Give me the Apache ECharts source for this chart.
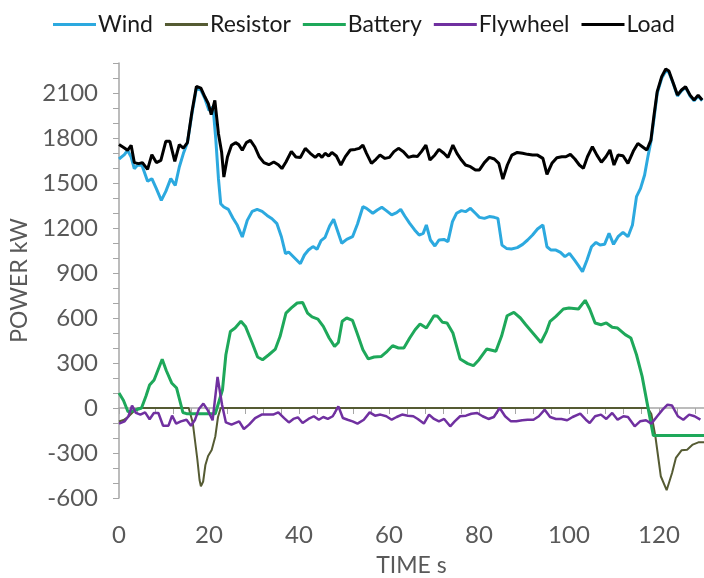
<!DOCTYPE html>
<html>
<head>
<meta charset="utf-8">
<script src="https://cdn.jsdelivr.net/npm/echarts@6/dist/echarts.min.js"></script>
<style>html,body{margin:0;padding:0;background:#fff}#c{width:704px;height:578px}</style>
</head>
<body>
<div id="c"></div>
<script>
const seriesNames = ['Wind', 'Resistor', 'Battery', 'Flywheel', 'Load'];
const xTicks = [0, 20, 40, 60, 80, 100, 120];
const yTicks = [-600, -300, 0, 300, 600, 900, 1200, 1500, 1800, 2100];

const windT = [0,1.2,1.9,2.7,3.4,4.1,5.1,6.35,7.3,8.3,9.4,10.4,11.5,12.5,13.4,14.3,15.2,16.2,17.2,18.2,19.1,20,20.9,21.5,22.1,22.6,23.3,24.3,25.3,26.3,27.4,28.5,29.6,30.7,31.8,32.9,34,35.1,36.1,37,37.7,38.8,40.3,41.2,42.1,43.1,44,44.9,45.8,46.8,47.7,48.5,49.5,50.6,51.9,53,54.2,55,56.4,57.4,58.4,59.4,60.6,61.7,62.6,63.5,64.6,65.7,66.7,67.6,68.3,69.2,70.2,71.1,72.2,73.1,74.1,75,76.1,77,78.1,79.2,80.1,81.2,82.3,83.4,84.2,85.1,86.1,87.2,88.5,89.7,90.8,91.9,93,94.2,95.1,96,97.1,98.1,99.1,100.1,101.2,102.1,103,104,105,106,106.9,107.9,108.9,109.9,110.9,112,113.1,114.1,115,115.9,116.8,117.6,118.2,118.9,119.6,120.6,121.5,122.2,123.2,124.1,125,125.9,126.9,127.8,128.7,129.6];
const windV = [1660,1689,1718,1673,1596,1618,1618,1511,1529,1462,1384,1444,1529,1484,1607,1696,1769,1960,2130,2120,2062,1984,2007,1796,1529,1362,1340,1324,1267,1218,1140,1251,1311,1324,1311,1284,1262,1229,1140,1029,1040,1007,962,1020,1053,1076,1058,1116,1138,1213,1258,1187,1098,1124,1142,1227,1342,1331,1298,1320,1338,1316,1287,1302,1324,1280,1231,1187,1153,1164,1220,1120,1080,1120,1124,1109,1242,1298,1316,1309,1331,1298,1271,1264,1276,1271,1264,1086,1064,1060,1069,1091,1120,1153,1193,1220,1075,1053,1053,1038,1009,1031,987,949,909,987,1075,1104,1086,1091,1164,1091,1142,1171,1142,1220,1409,1464,1553,1686,1775,1931,2098,2198,2246,2237,2160,2080,2115,2138,2080,2048,2080,2048];

const loadT = [0,1.2,1.9,2.7,3.4,4.35,5.2,6.35,7.3,8.3,9.3,10.4,11.3,12.4,13.4,14.3,15.2,16.2,17.2,18.2,19.1,19.85,20.5,21.3,22.1,22.8,23.3,24.1,25,25.9,26.6,27.4,28.3,29.2,30.2,31.2,32.2,33.3,34.4,35.4,36.2,37.1,38.3,39.3,40.3,41.4,42.5,43.6,44.4,45.1,45.8,46.6,47.3,48.3,49.3,50.3,51.4,52.5,53.4,54.2,55,56.1,57.1,58,59.1,60.1,61.1,62.1,63.2,64.3,65.4,66.3,67.2,68.2,69.1,70.2,71.1,72.2,73.1,74.2,75.1,76.1,77,78.1,79.2,80.1,81.2,82.3,83.4,84.4,85.3,86.3,87.3,88.5,89.7,90.8,91.9,93,94.2,95.1,96.2,97.3,98.4,99.3,100.3,101.3,102.3,103.2,104.1,105.2,106.2,107.2,108.2,109.1,110,110.9,112,113.1,114.3,115.3,116.3,117.3,118.2,118.9,119.6,120.6,121.5,122.2,123.2,124.1,125,125.9,126.9,127.8,128.7,129.6];
const loadV = [1756,1733,1718,1751,1636,1629,1636,1591,1689,1636,1651,1778,1778,1644,1756,1733,1769,1973,2144,2133,2073,2029,1956,2051,1829,1707,1540,1673,1751,1769,1756,1718,1769,1784,1740,1673,1636,1622,1640,1622,1596,1640,1711,1673,1670,1731,1698,1671,1693,1671,1698,1680,1704,1680,1620,1676,1720,1724,1731,1753,1698,1631,1658,1687,1664,1671,1709,1731,1709,1671,1680,1676,1709,1753,1653,1687,1724,1698,1671,1753,1698,1653,1620,1609,1587,1587,1636,1671,1660,1631,1526,1620,1686,1704,1698,1691,1686,1686,1664,1558,1631,1669,1675,1675,1691,1660,1620,1598,1675,1742,1686,1638,1675,1720,1620,1686,1682,1631,1713,1764,1742,1720,1786,1953,2109,2209,2260,2246,2164,2086,2120,2142,2086,2053,2086,2053];

const batteryT = [0,1,2,3,4,5,6,6.8,7.8,9.6,10.5,11.7,12.8,14.2,15,21.4,23,23.75,24.75,25.8,27.1,28.1,29.6,30.8,31.9,33.3,34.75,35.8,37.1,38.3,39.6,40.8,41.9,42.9,44.2,45.4,46.7,47.9,48.75,49.6,50.6,51.9,52.9,54.2,55.4,56.7,58.3,59.6,60.8,62.1,63.3,64.6,65.8,66.9,68.3,70,70.8,71.9,72.9,74.2,75.8,77.5,78.75,80,81.7,83.75,85,86.25,87.75,89.2,90.4,92.1,93.75,95,95.8,97.1,98.75,100,102.1,103.6,104.6,105.8,107.1,108.3,109.6,110.8,112.5,113.75,115,116.25,117.5,118.75,130];
const batteryV = [100,50,-25,-20,-10,0,80,153,187,325,250,167,133,-30,-38,-38,122,355,510,533,578,544,433,340,322,355,393,478,633,667,700,704,633,607,593,544,467,411,437,578,600,584,500,389,327,340,344,378,415,400,400,467,522,560,533,615,611,571,567,500,327,296,282,322,393,378,478,615,638,600,555,495,437,511,578,611,660,667,660,718,660,567,555,567,538,533,489,467,355,211,11,-184,-184];

const resistorT = [0,1,2,3,4,5,15.5,16.4,16.9,17.4,17.9,18.2,18.7,19.2,19.8,20.6,21.4,22,22.6,117.5,118.3,119.2,120.4,121.7,122.9,123.75,125,126.25,127.5,128.75,130];
const resistorV = [-90,-80,-60,-30,-5,0,0,-100,-220,-340,-480,-522,-490,-380,-320,-280,-190,-60,0,0,-40,-190,-455,-548,-433,-333,-282,-278,-244,-229,-229];

const flywheelT = [0,1.25,2.1,2.9,3.75,4.75,5.8,6.8,7.75,8.75,9.8,11,11.8,12.7,13.75,15,16,16.9,17.75,18.75,19.75,20.8,21.9,22.9,23.75,25,26.7,27.75,28.9,30.25,31.7,33,34.25,35.4,36.7,37.75,38.75,39.75,40.8,42.1,43.3,44.4,45.4,46.4,47.5,48.75,49.75,50.8,51.9,53,54.4,55.7,56.9,58.1,59.4,60.6,61.7,62.9,64.2,65.4,66.4,67.75,68.9,70,71.1,72.25,73.6,74.6,75.8,77.1,78.3,79.6,80.8,82.1,83.3,84.6,85.8,87.1,88.3,89.6,90.8,92.1,93.3,94.6,95.8,97.1,98.3,99.6,100.8,102.5,103.75,104.6,105.8,107.1,108.3,109.6,110.8,112.1,113.1,114.6,115.8,117.1,118.3,119.6,120.8,121.9,122.9,124.2,125.4,126.7,127.9,129.2];
const flywheelV = [-104,-89,-55,16,-33,-44,-29,-75,-33,-33,-118,-118,-51,-104,-89,-78,-118,-78,-7,29,-16,-82,207,22,-96,-111,-89,-140,-111,-67,-44,-44,-44,-29,-67,-96,-73,-62,-100,-73,-55,-78,-60,-73,-55,11,-67,-78,-89,-104,-78,-29,-51,-44,-55,-78,-60,-44,-51,-55,-73,-104,-44,-73,-89,-73,-122,-89,-55,-51,-38,-33,-55,-73,-60,0,-55,-89,-89,-82,-78,-78,-55,-11,-60,-73,-73,-82,-60,-38,-78,-100,-55,-44,-73,-33,-78,-55,-60,-122,-89,-82,-104,-55,-11,22,16,-55,-78,-44,-55,-78];

const zip = (t, v) => t.map((x, i) => [x, v[i]]);
const colors = ['#2ca9df', '#555b33', '#1ea85a', '#7030a0', '#000000'];
const widths = [3, 2, 3, 2.5, 3];
const dataSets = [zip(windT, windV), zip(resistorT, resistorV), zip(batteryT, batteryV), zip(flywheelT, flywheelV), zip(loadT, loadV)];

const font = 'Lato, "Open Sans", sans-serif';
const chart = echarts.init(document.getElementById('c'), null, {renderer: 'canvas'});
chart.setOption({
  animation: false,
  backgroundColor: '#ffffff',
  color: colors,
  legend: {
    top: 8, left: 48,
    icon: 'rect', itemWidth: 43, itemHeight: 3, itemGap: 12,
    textStyle: {fontSize: 23, color: '#1a1a1a', fontFamily: font, padding: [0, 0, 0, -3]},
    data: seriesNames
  },
  grid: {left: 119, right: 0, top: 63, bottom: 80, containLabel: false, outerBoundsMode: 'none'},
  xAxis: {
    type: 'value', min: 0, max: 130, interval: 4,
    name: 'TIME s', nameLocation: 'middle', nameGap: 56,
    nameTextStyle: {fontSize: 23, color: '#595959', fontFamily: font},
    axisLine: {show: true, lineStyle: {color: '#a6a6a6', width: 1.5}},
    axisTick: {show: true, length: 6, lineStyle: {color: '#a6a6a6'}},
    splitLine: {show: false},
    axisLabel: {fontSize: 24, color: '#595959', fontFamily: font, margin: 25,
      formatter: v => xTicks.includes(v) ? String(v) : ''}
  },
  yAxis: {
    type: 'value', min: -600, max: 2300, interval: 100,
    name: 'POWER kW', nameLocation: 'middle', nameGap: 73,
    nameTextStyle: {fontSize: 23, color: '#595959', fontFamily: font},
    axisLine: {show: true, lineStyle: {color: '#a6a6a6', width: 1.5}},
    axisTick: {show: true, length: 6, lineStyle: {color: '#a6a6a6'}},
    splitLine: {show: false},
    axisLabel: {fontSize: 24, color: '#595959', fontFamily: font, margin: 21,
      formatter: v => yTicks.includes(v) ? String(v) : ''}
  },
  series: seriesNames.map((n, i) => ({
    name: n, type: 'line', data: dataSets[i], showSymbol: false, symbol: 'none',
    lineStyle: {width: widths[i], color: colors[i]}, itemStyle: {color: colors[i]},
    clip: true, z: 2 + i
  }))
});
</script>
</body>
</html>
